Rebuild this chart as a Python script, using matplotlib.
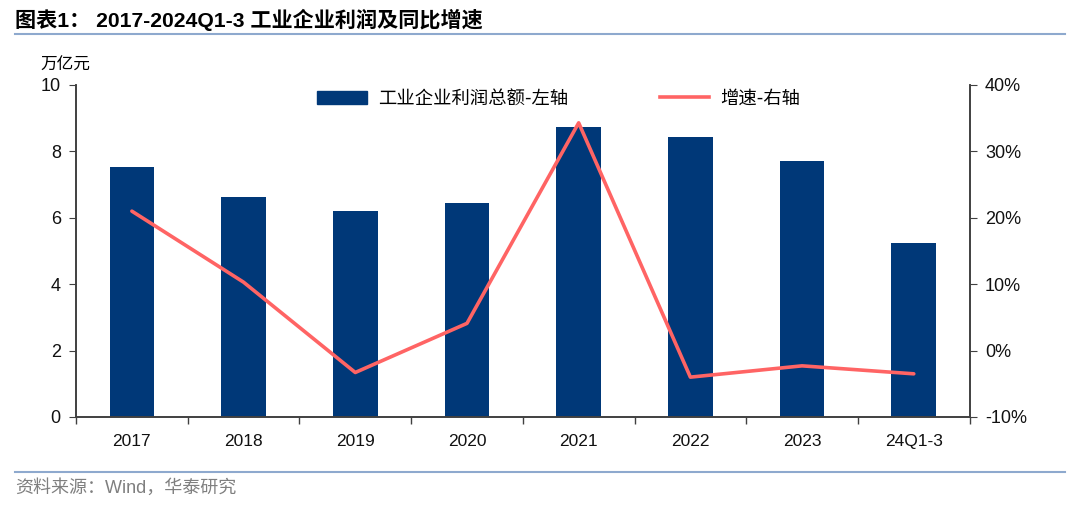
import matplotlib
matplotlib.use('Agg')
import matplotlib.pyplot as plt
from matplotlib.lines import Line2D
import numpy as np

plt.rcParams['font.family'] = ['Liberation Sans', 'Noto Sans CJK SC', 'DejaVu Sans']

categories = ['2017', '2018', '2019', '2020', '2021', '2022', '2023', '24Q1-3']
profit = [7.53, 6.63, 6.20, 6.45, 8.73, 8.43, 7.71, 5.24]   # 万亿元
growth = [21.0, 10.3, -3.3, 4.1, 34.3, -4.0, -2.3, -3.5]    # %

title = '图表1： 2017-2024Q1-3 工业企业利润及同比增速'
source = '资料来源：Wind，华泰研究'
bar_label = '工业企业利润总额-左轴'
line_label = '增速-右轴'

bar_color = '#003878'
line_color = '#FF6464'
axis_color = '#404040'

fig = plt.figure(figsize=(10.8, 5.05), dpi=100)
ax = fig.add_axes([0.0704, 0.1743, 0.8274, 0.6574])
ax2 = ax.twinx()

x = np.arange(len(categories))
bars = ax.bar(x, profit, width=0.4, color=bar_color, zorder=2)
ln, = ax2.plot(x, growth, color=line_color, lw=2.6, zorder=3, solid_capstyle='round')

ax.set_xlim(-0.5, len(categories) - 0.5)
ax.set_ylim(0, 10)
ax.set_yticks([0, 2, 4, 6, 8, 10])
ax2.set_ylim(-10, 40)
ax2.set_yticks([-10, 0, 10, 20, 30, 40])
ax2.set_yticklabels([f'{v}%' for v in range(-10, 41, 10)])

ax.set_xticks(x)
ax.set_xticklabels(categories)
ax.set_xticks(np.arange(-0.5, len(categories), 1), minor=True)
ax.tick_params(axis='x', which='major', length=0, pad=12, labelsize=12.5, colors='#111111')
ax.tick_params(axis='x', which='minor', length=5, direction='out', color=axis_color, width=1)
ax.tick_params(axis='y', length=5, direction='out', color=axis_color, labelsize=13, labelcolor='#111111', pad=6)
ax2.tick_params(axis='y', length=5, direction='out', color=axis_color, labelsize=13, labelcolor='#111111', pad=6)

for a in (ax, ax2):
    a.spines['top'].set_visible(False)
    for s in ('left', 'right', 'bottom'):
        a.spines[s].set_color(axis_color)
        a.spines[s].set_linewidth(1.2)

ax.text(-0.04, 1.035, '万亿元', transform=ax.transAxes, fontsize=12, ha='left', va='bottom',
        family=['Noto Sans CJK SC', 'DejaVu Sans'])

handles = [plt.Rectangle((0, 0), 1, 1, color=bar_color),
           Line2D([0], [0], color=line_color, lw=2.6)]
leg = ax.legend(handles, [bar_label, line_label], loc='upper center', bbox_to_anchor=(0.54, 1.035),
                ncol=2, frameon=False, handlelength=2.7, handleheight=0.7,
                columnspacing=5.0, handletextpad=0.6, prop={'family': ['Noto Sans CJK SC'], 'size': 13.2})

fig.text(0.014, 0.960, title, fontsize=15.2, fontweight='bold', ha='left', va='center',
         family=['Liberation Sans', 'Noto Sans CJK SC'])
fig.add_artist(Line2D([0.014, 0.986], [0.933, 0.933], color='#8EA9CE', lw=1.5))
fig.add_artist(Line2D([0.014, 0.986], [0.066, 0.066], color='#8EA9CE', lw=1.5))
fig.text(0.014, 0.033, source, fontsize=13, color='#7F7F7F', ha='left', va='center',
         family=['Liberation Sans', 'Noto Sans CJK SC'])

fig.savefig('out.png', dpi=100)
